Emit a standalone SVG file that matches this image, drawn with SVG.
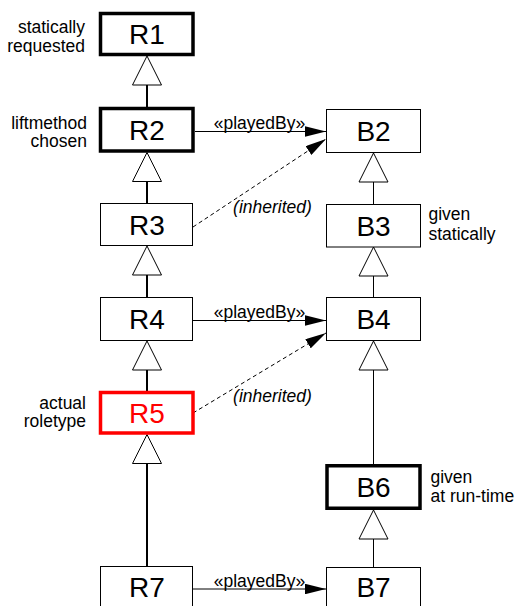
<svg xmlns="http://www.w3.org/2000/svg" width="516" height="606" viewBox="0 0 516 606">
<defs>
<style>
.box{fill:#fff;stroke:#000;stroke-width:1}
.thick{stroke-width:3.5}
.red{stroke:#f00}
.nl{font-family:"Liberation Sans",Arial,sans-serif;font-size:28px;text-anchor:middle;fill:#000}
.sl{font-family:"Liberation Sans",Arial,sans-serif;font-size:17.5px;fill:#000}
.end{text-anchor:end}
.mid{text-anchor:middle}
.it{font-style:italic}
.gen{fill:#fff;stroke:#000;stroke-width:1}
.rl{stroke:#000;stroke-width:2;fill:none}
.bl{stroke:#000;stroke-width:1;fill:none}
.assoc{stroke:#000;stroke-width:1;fill:none}
.dash{stroke:#000;stroke-width:1;fill:none;stroke-dasharray:4,3}
</style>
<marker id="arr" viewBox="0 0 20 10" refX="20" refY="5" markerWidth="21" markerHeight="10.5" markerUnits="userSpaceOnUse" orient="auto">
<path d="M0,0 L20,5 L0,10 Z" fill="#000"/>
</marker>
</defs>
<rect width="516" height="606" fill="#fff"/>
<g id="connectors">
<line class="rl" x1="147" y1="85" x2="147" y2="107"/>
<line class="rl" x1="147" y1="181.5" x2="147" y2="203"/>
<line class="rl" x1="147" y1="275" x2="147" y2="297"/>
<line class="rl" x1="147" y1="370" x2="147" y2="391"/>
<line class="rl" x1="147" y1="463.5" x2="147" y2="566"/>
<line class="bl" x1="373.5" y1="182" x2="373.5" y2="204"/>
<line class="bl" x1="373.5" y1="276" x2="373.5" y2="297"/>
<line class="bl" x1="373.5" y1="370" x2="373.5" y2="464"/>
<line class="bl" x1="373.5" y1="539" x2="373.5" y2="567"/>
<path class="gen" d="M147,56 L161.5,85 L132.5,85 Z"/>
<path class="gen" d="M147,152.5 L161.5,181.5 L132.5,181.5 Z"/>
<path class="gen" d="M147,246 L161.5,275 L132.5,275 Z"/>
<path class="gen" d="M147,341 L161.5,370 L132.5,370 Z"/>
<path class="gen" d="M147,434.5 L161.5,463.5 L132.5,463.5 Z"/>
<path class="gen" d="M373.5,153 L388,182 L359,182 Z"/>
<path class="gen" d="M373.5,247 L388,276 L359,276 Z"/>
<path class="gen" d="M373.5,341 L388,370 L359,370 Z"/>
<path class="gen" d="M373.5,510 L388,539 L359,539 Z"/>
<line class="assoc" x1="195" y1="131.5" x2="326" y2="131.5" marker-end="url(#arr)"/>
<line class="assoc" x1="193" y1="320.5" x2="326" y2="320.5" marker-end="url(#arr)"/>
<line class="assoc" x1="193" y1="589" x2="326" y2="589" marker-end="url(#arr)"/>
<line class="dash" x1="193" y1="227" x2="326" y2="139" marker-end="url(#arr)"/>
<line class="dash" x1="193" y1="413" x2="326" y2="333" marker-end="url(#arr)"/>
<text class="sl mid" x="259.5" y="129">«playedBy»</text>
<text class="sl mid" x="259.5" y="318">«playedBy»</text>
<text class="sl mid" x="259.5" y="586.5">«playedBy»</text>
<text class="sl mid it" x="272.5" y="213">(inherited)</text>
<text class="sl mid it" x="272.5" y="401.5">(inherited)</text>
</g>
<g id="R1">
<rect class="box thick" x="100.5" y="13.5" width="92.5" height="41"/>
<text class="nl" x="147" y="44">R1</text>
<text class="sl end" x="85" y="33">statically</text>
<text class="sl end" x="85" y="52">requested</text>
</g>
<g id="R2">
<rect class="box thick" x="100.5" y="108.5" width="92.5" height="42.5"/>
<text class="nl" x="147" y="140">R2</text>
<text class="sl end" x="87" y="128.5">liftmethod</text>
<text class="sl end" x="87" y="147">chosen</text>
</g>
<g id="R3">
<rect class="box" x="100.5" y="203.5" width="92" height="42"/>
<text class="nl" x="147" y="234.5">R3</text>
</g>
<g id="R4">
<rect class="box" x="100.5" y="297.5" width="92" height="43"/>
<text class="nl" x="147" y="329">R4</text>
</g>
<g id="R5">
<rect class="box thick red" x="100.5" y="392.5" width="92.5" height="40.5"/>
<text class="nl" x="147" y="423" style="fill:#f00">R5</text>
<text class="sl end" x="86" y="408.5">actual</text>
<text class="sl end" x="86" y="427">roletype</text>
</g>
<g id="R7">
<rect class="box" x="100.5" y="566.5" width="92" height="60"/>
<text class="nl" x="147" y="597">R7</text>
</g>
<g id="B2">
<rect class="box" x="326.5" y="109.5" width="94" height="43"/>
<text class="nl" x="373.5" y="141">B2</text>
</g>
<g id="B3">
<rect class="box" x="326.5" y="204.5" width="94" height="42.5"/>
<text class="nl" x="373.5" y="236">B3</text>
<text class="sl" x="428.5" y="220">given</text>
<text class="sl" x="428.5" y="239.5">statically</text>
</g>
<g id="B4">
<rect class="box" x="326.5" y="297.5" width="94" height="43"/>
<text class="nl" x="373.5" y="329">B4</text>
</g>
<g id="B6">
<rect class="box thick" x="327" y="465.75" width="93" height="42.5"/>
<text class="nl" x="373.5" y="497">B6</text>
<text class="sl" x="430.5" y="483">given</text>
<text class="sl" x="430.5" y="502">at run-time</text>
</g>
<g id="B7">
<rect class="box" x="326.5" y="567.5" width="94" height="60"/>
<text class="nl" x="373.5" y="597">B7</text>
</g>
</svg>
